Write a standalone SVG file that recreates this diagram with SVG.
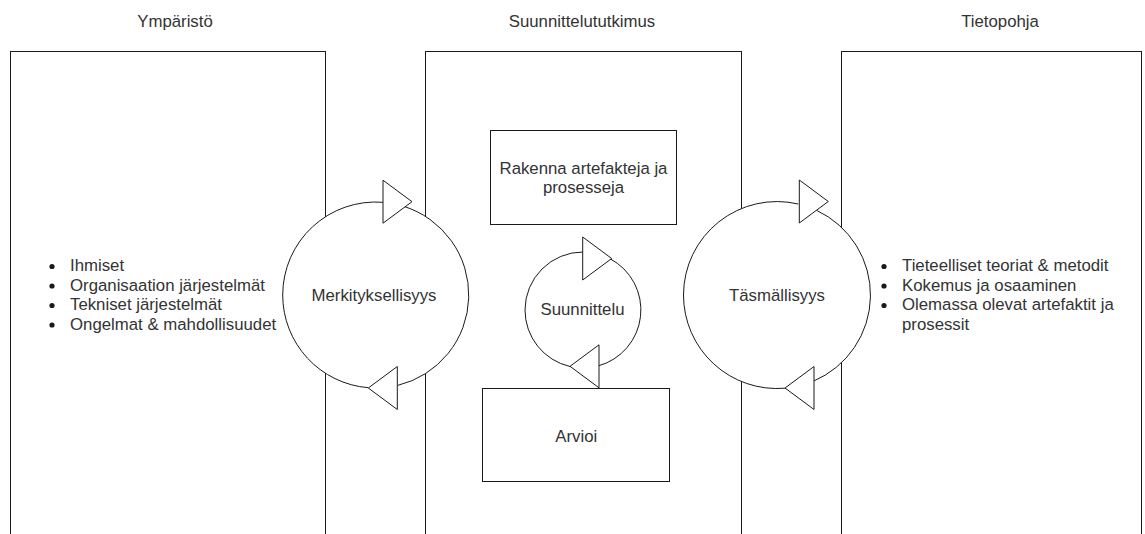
<svg xmlns="http://www.w3.org/2000/svg" xmlns:xlink="http://www.w3.org/1999/xlink" width="1145" height="534" viewBox="0 0 1145 534">
  <style>
    text { font-family: "Liberation Sans", Arial, Helvetica, sans-serif; font-size: 16.8px; fill: #333333; }
    .mid { text-anchor: middle; }
    .box { fill: #ffffff; stroke: #1a1a1a; stroke-width: 1; }
    .disc { fill: #ffffff; stroke: none; }
    .arc { fill: none; stroke: #1a1a1a; stroke-width: 1; }
    .head { fill: #ffffff; stroke: #1a1a1a; stroke-width: 1; stroke-linejoin: miter; }
    .dot { fill: #1a1a1a; }
  </style>
  <defs>
    <!-- open block arrowhead, tip at the origin, pointing right -->
    <polygon id="head" class="head" points="0,0 -29,-21.5 -29,21.5"/>
  </defs>

  <rect width="1145" height="534" fill="#ffffff"/>

  <!-- column headings -->
  <g id="headings">
    <text class="mid" x="175" y="27">Ympäristö</text>
    <text class="mid" x="582" y="27">Suunnittelututkimus</text>
    <text class="mid" x="1000" y="27">Tietopohja</text>
  </g>

  <!-- environment column -->
  <g id="ymparisto">
    <rect class="box" x="10.5" y="51.5" width="315" height="520"/>
    <circle class="dot" cx="52" cy="266.5" r="2.6"/>
    <circle class="dot" cx="52" cy="286" r="2.6"/>
    <circle class="dot" cx="52" cy="305.5" r="2.6"/>
    <circle class="dot" cx="52" cy="325" r="2.6"/>
    <text x="70" y="271">Ihmiset</text>
    <text x="70" y="290.6">Organisaation järjestelmät</text>
    <text x="70" y="310.2">Tekniset järjestelmät</text>
    <text x="70" y="329.8">Ongelmat &amp; mahdollisuudet</text>
  </g>

  <!-- design science column -->
  <g id="suunnittelututkimus">
    <rect class="box" x="425.5" y="51.5" width="316" height="520"/>
  </g>

  <!-- knowledge base column -->
  <g id="tietopohja">
    <rect class="box" x="841.5" y="51.5" width="300" height="520"/>
    <circle class="dot" cx="884" cy="266.5" r="2.6"/>
    <circle class="dot" cx="884" cy="286" r="2.6"/>
    <circle class="dot" cx="884" cy="305.5" r="2.6"/>
    <text x="902" y="271">Tieteelliset teoriat &amp; metodit</text>
    <text x="902" y="290.6">Kokemus ja osaaminen</text>
    <text x="902" y="310.2">Olemassa olevat artefaktit ja</text>
    <text x="902" y="329.8">prosessit</text>
  </g>

  <!-- build step -->
  <g id="rakenna">
    <rect class="box" x="490.5" y="130.5" width="186" height="94"/>
    <text class="mid" x="583.5" y="173.5">Rakenna artefakteja ja</text>
    <text class="mid" x="583.5" y="193">prosesseja</text>
  </g>

  <!-- evaluate step -->
  <g id="arvioi">
    <rect class="box" x="482.5" y="388.5" width="187" height="93"/>
    <text class="mid" x="576.3" y="441.5">Arvioi</text>
  </g>

  <!-- cycle discs, white so they hide the column borders behind them -->
  <g id="merkityksellisyys">
    <circle class="disc" cx="375.7" cy="295" r="93"/>
    <text class="mid" x="374" y="301">Merkityksellisyys</text>
  </g>

  <g id="tasmallisyys">
    <circle class="disc" cx="777" cy="295" r="93.5"/>
    <text class="mid" x="777" y="301">Täsmällisyys</text>
  </g>

  <g id="suunnittelu">
    <text class="mid" x="582.5" y="315">Suunnittelu</text>
  </g>

  <!-- cycle arcs and their arrowheads -->
  <g id="connectors">
    <!-- relevance cycle -->
    <path class="arc" d="M403 206.1 A93 93 0 0 1 397.7 385.4"/>
    <path class="arc" d="M368.3 387.7 A93 93 0 0 1 282.7 295 A93 93 0 0 1 383 202.3"/>
    <use xlink:href="#head" href="#head" transform="translate(412 201.7)"/>
    <use xlink:href="#head" href="#head" transform="translate(368.3 388) rotate(180)"/>

    <!-- rigor cycle -->
    <path class="arc" d="M816.7 210.4 A93.5 93.5 0 0 1 813.3 381.2"/>
    <path class="arc" d="M785 388.2 A93.5 93.5 0 0 1 683.5 295 A93.5 93.5 0 0 1 798.3 204"/>
    <use xlink:href="#head" href="#head" transform="translate(828.3 201.5)"/>
    <use xlink:href="#head" href="#head" transform="translate(785 388) rotate(180)"/>

    <!-- design cycle -->
    <path class="arc" d="M610 258.7 A58 58 0 0 1 598.3 365.9"/>
    <path class="arc" d="M570 366.5 A58 58 0 0 1 525 310 A58 58 0 0 1 583 252"/>
    <use xlink:href="#head" href="#head" transform="translate(611.7 258.5)"/>
    <use xlink:href="#head" href="#head" transform="translate(570 366.3) rotate(180)"/>
  </g>
</svg>
